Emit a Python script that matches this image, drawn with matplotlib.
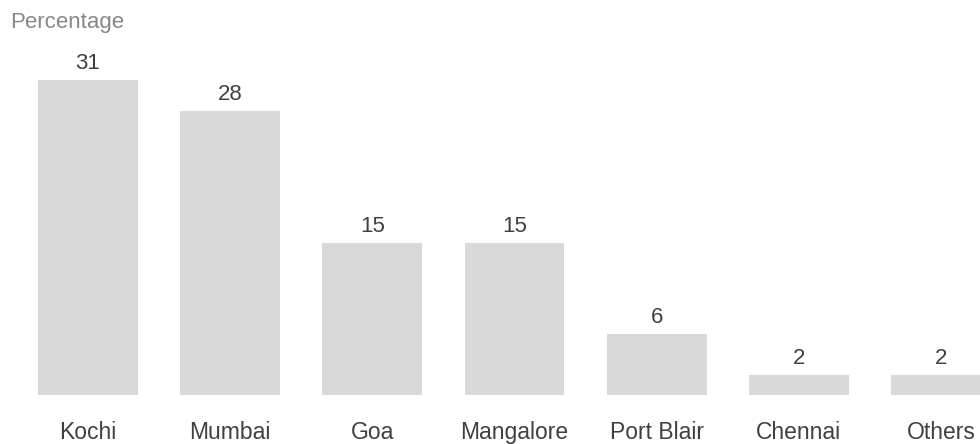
import matplotlib.pyplot as plt

ports = ['Kochi', 'Mumbai', 'Goa', 'Mangalore', 'Port Blair', 'Chennai', 'Others']
share = [31, 28, 15, 15, 6, 2, 2]

plt.rcParams['font.family'] = ['Liberation Sans', 'DejaVu Sans']

fig = plt.figure(figsize=(9.8, 4.44), dpi=100)
ax = fig.add_axes([0, 49 / 444, 1, 395 / 444])

x = list(range(len(ports)))
bars = ax.bar(x, share, width=0.703, color='#d9d9d9')

# value labels above bars
for xi, v in zip(x, share):
    ax.text(xi, v + 1.08, str(v), ha='center', va='baseline', fontsize=16, color='#404040')

# category labels below
for xi, name in zip(x, ports):
    ax.text(xi, -4.3, name, ha='center', va='baseline', fontsize=16.5, color='#404040')

ax.text(-0.548, 36.12, 'Percentage', ha='left', va='baseline', fontsize=16, color='#888888')

ax.set_xlim(-88 / 142.17, (980 - 88) / 142.17)
ax.set_ylim(0, 395 / 10.16)
ax.axis('off')

fig.savefig('out.png', dpi=100)
